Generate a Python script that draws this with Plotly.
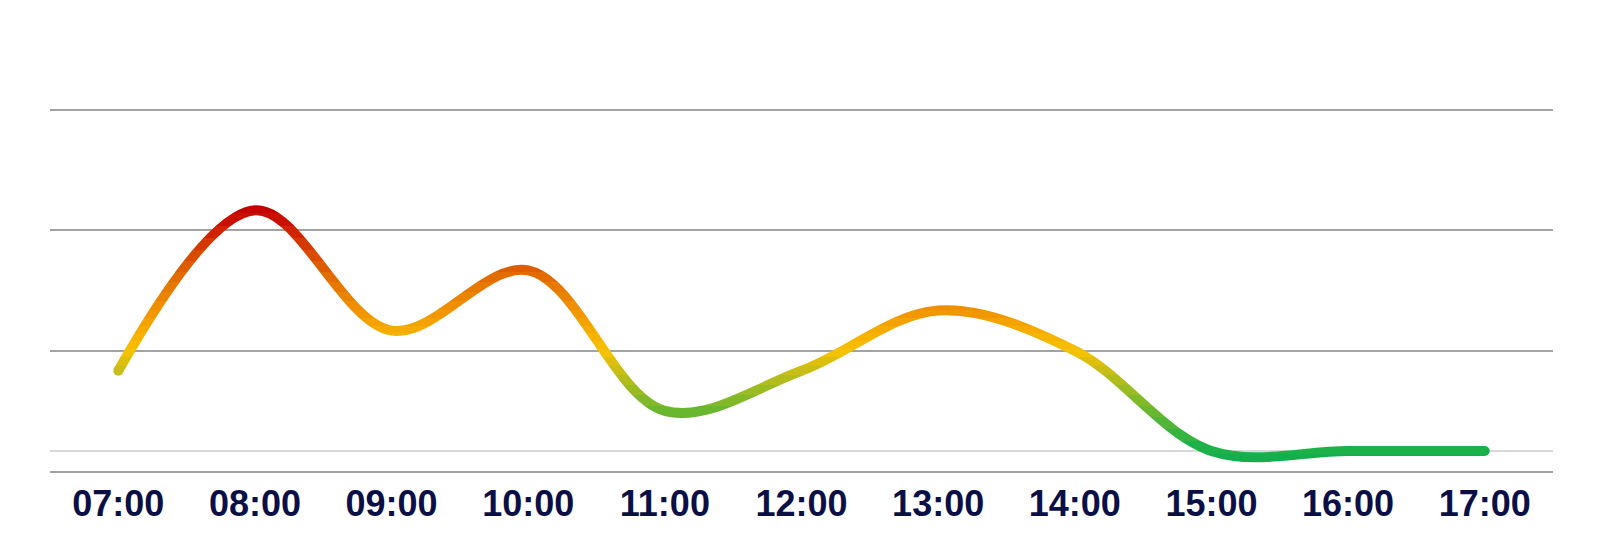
import math
import plotly.graph_objects as go

# ---------------- data ----------------
TIMES = ["07:00", "08:00", "09:00", "10:00", "11:00", "12:00",
         "13:00", "14:00", "15:00", "16:00", "17:00"]
VALUES = [5, 13, 7, 10, 3, 5, 8, 6, 1, 1, 1]
BASELINE = 1            # light reference line
Y_MIN, Y_MAX, Y_STEP = 0, 18, 6
Y_TOP = 18.25           # a little head-room so the top gridline is drawn

# ---------------- style ----------------
W, H = 1588, 540        # page body has an 8px margin
M_L, M_R, M_T, M_B = 42, 43, 97, 77
PLOT_H = H - M_T - M_B
LINE_W = 10
GRID_COLOR = "#a3a3a3"
BASE_COLOR = "#d9d9d9"
TICK_COLOR = "#0a1045"

# vertical colour gradient of the line (value -> rgb)
GRAD_VALUES = [0.0, 1.0, 3.0, 5.0, 6.0, 7.0, 8.0, 10.0, 12.0, 13.0, 18.0]
GRAD_COLORS = [(16, 174, 80), (22, 176, 76), (106, 183, 46), (200, 190, 22),
               (248, 194, 0), (245, 172, 0), (240, 148, 0), (224, 100, 0),
               (208, 32, 0), (196, 0, 0), (196, 0, 0)]


def grad_color(v):
    if v <= GRAD_VALUES[0]:
        c = GRAD_COLORS[0]
    elif v >= GRAD_VALUES[-1]:
        c = GRAD_COLORS[-1]
    else:
        for i in range(len(GRAD_VALUES) - 1):
            a, b = GRAD_VALUES[i], GRAD_VALUES[i + 1]
            if a <= v <= b:
                t = (v - a) / (b - a)
                ca, cb = GRAD_COLORS[i], GRAD_COLORS[i + 1]
                c = tuple(round(ca[k] + (cb[k] - ca[k]) * t) for k in range(3))
                break
    return "rgb(%d,%d,%d)" % c


def v2px(v):  # pixel offset from the top of the plot area
    return (Y_TOP - v) / (Y_TOP - Y_MIN) * PLOT_H


def px2v(p):
    return Y_TOP - p / PLOT_H * (Y_TOP - Y_MIN)


fig = go.Figure()

# end caps (round ends of the line)
fig.add_trace(go.Scatter(
    x=[TIMES[0], TIMES[-1]], y=[VALUES[0], VALUES[-1]], mode="markers",
    marker=dict(size=LINE_W, color=[grad_color(VALUES[0]), grad_color(VALUES[-1])],
                line=dict(width=0)),
    hoverinfo="skip", showlegend=False))

# the line, drawn in horizontal bands (one clipped subplot per band)
pt_top = v2px(max(VALUES))
pt_bot = v2px(min(VALUES))
p = int(math.floor(pt_top - 10))
p_end = int(math.ceil(pt_bot + 14))
layout_axes = {}
n = 2
while p < p_end:
    need = max((p - pt_top) / 20.0, (pt_bot - p) / 21.0)
    L = max(3, int(math.ceil(need)) + 1)
    top, bot = p, p + L
    d0 = 1 - bot / PLOT_H
    d1 = 1 - top / PLOT_H
    r0, r1 = px2v(bot), px2v(top)
    col = grad_color(px2v((top + bot) / 2.0))
    yname = "y%d" % n
    layout_axes["yaxis%d" % n] = dict(domain=[max(d0, 0), min(d1, 1)], range=[r0, r1],
                                      visible=False, anchor="x", fixedrange=True)
    fig.add_trace(go.Scatter(
        x=TIMES, y=VALUES, mode="lines", xaxis="x", yaxis=yname,
        line=dict(shape="spline", smoothing=1, width=LINE_W, color=col),
        hoverinfo="skip", showlegend=False))
    n += 1
    p = bot

fig.add_shape(type="line", xref="paper", x0=0, x1=1, yref="y", y0=BASELINE, y1=BASELINE,
              line=dict(color=BASE_COLOR, width=2), layer="below")

fig.update_layout(
    width=W, height=H,
    margin=dict(l=M_L, r=M_R, t=M_T, b=M_B, pad=0),
    paper_bgcolor="white", plot_bgcolor="rgba(0,0,0,0)",
    showlegend=False,
    xaxis=dict(type="category", categoryorder="array", categoryarray=TIMES,
               range=[-0.5, len(TIMES) - 0.5], autorange=False,
               showgrid=False, zeroline=False, showline=True,
               linecolor=GRID_COLOR, linewidth=2, ticks="",
               ticklabelstandoff=0,
               tickfont=dict(family="Liberation Sans, Arial, sans-serif", size=36,
                             color=TICK_COLOR, weight="bold"),
               fixedrange=True),
    yaxis=dict(range=[Y_MIN, Y_TOP], autorange=False, tick0=Y_MIN, dtick=Y_STEP,
               showgrid=True, gridcolor=GRID_COLOR, gridwidth=2, zeroline=False,
               showticklabels=False, ticks="", showline=False, fixedrange=True),
    **layout_axes,
)

fig.write_html("out.html", config={"displayModeBar": False})
